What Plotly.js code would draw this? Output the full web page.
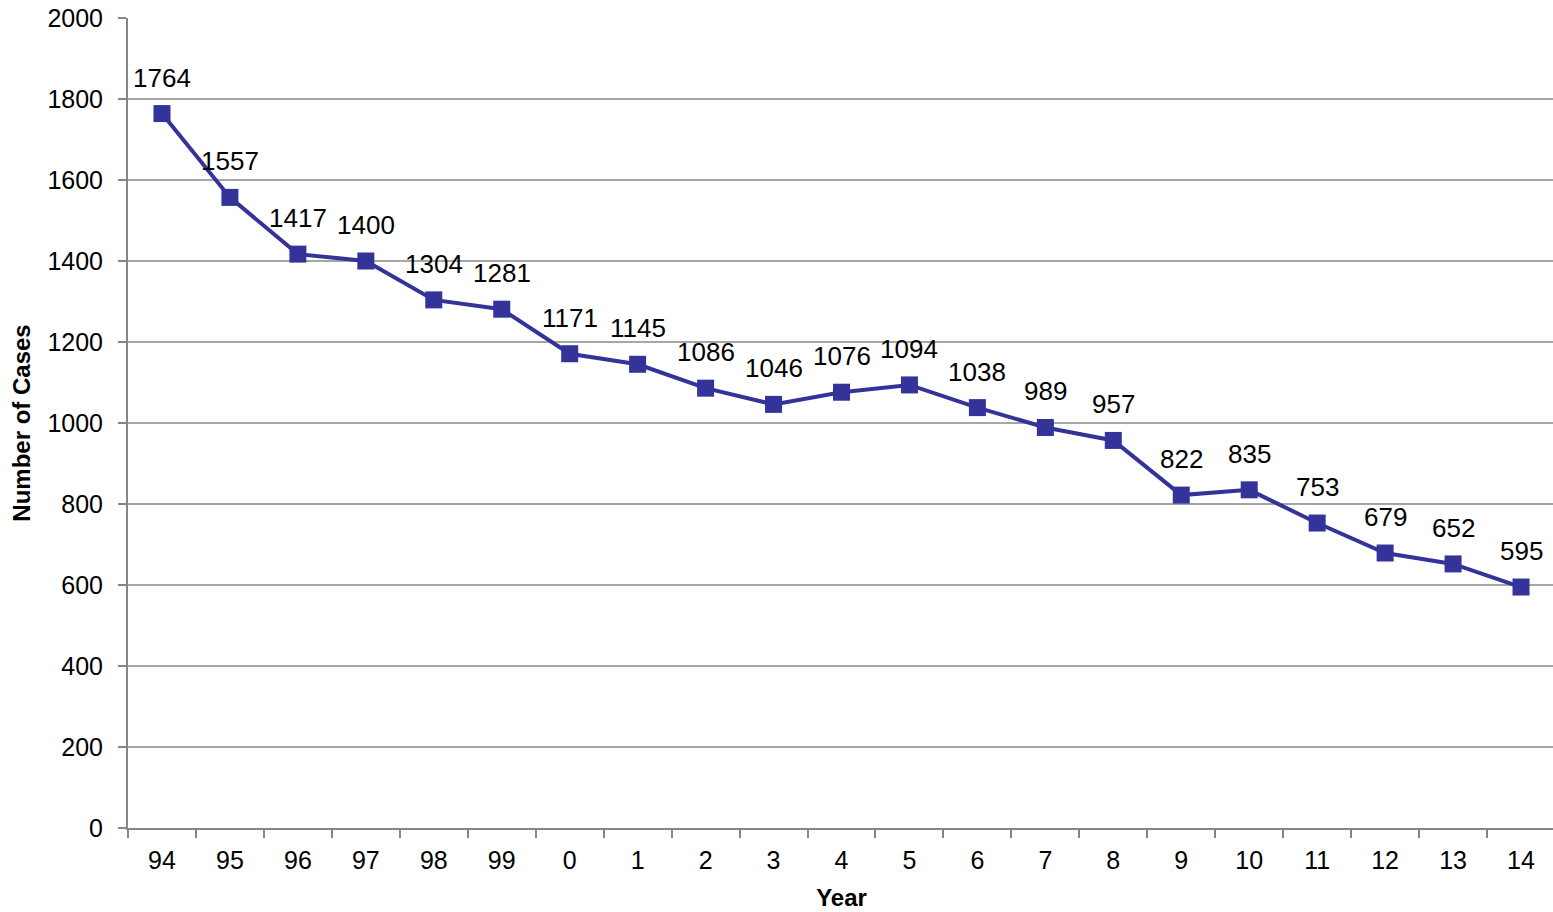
<!DOCTYPE html>
<html><head><meta charset="utf-8">
<script src="https://cdn.plot.ly/plotly-3.0.1.min.js"></script>
<style>html,body{margin:0;padding:0;overflow:hidden;background:#fff}</style>
</head><body>
<div id="chart" style="width:1555px;height:912px"></div>
<script>
const years = ["94","95","96","97","98","99","0","1","2","3","4","5","6","7","8","9","10","11","12","13","14"];
const cases = [1764,1557,1417,1400,1304,1281,1171,1145,1086,1046,1076,1094,1038,989,957,822,835,753,679,652,595];
const yTicks = [0,200,400,600,800,1000,1200,1400,1600,1800,2000];

const FONT = 'Liberation Sans, Arial, sans-serif';
const trace = {
  x: years, y: cases, type: 'scatter', mode: 'lines+markers',
  line: {color: '#333399', width: 4},
  marker: {symbol: 'square', size: 17, color: '#333399'},
  cliponaxis: false, hoverinfo: 'skip'
};
// category axis: annotation x given as category index
const annotations = years.map((yr, i) => ({
  x: i, y: cases[i], xref: 'x', yref: 'y', text: String(cases[i]),
  showarrow: false, yshift: 36, font: {family: FONT, size: 26, color: '#000'}
}));
const layout = {
  width: 1555, height: 912,
  margin: {l: 128, r: 0, t: 18, b: 84},
  paper_bgcolor: '#fff', plot_bgcolor: '#fff',
  font: {family: FONT, color: '#000', size: 24},
  showlegend: false,
  annotations: annotations,
  xaxis: {
    type: 'category', tickson: 'boundaries', ticks: 'outside', ticklen: 8, tickcolor: '#868686', tickwidth: 2,
    showgrid: false, showline: true, linecolor: '#868686', linewidth: 2,
    tickfont: {size: 25}, range: [-0.5, 20.5], ticklabelstandoff: 9,
    title: {text: '<b>Year</b>', font: {size: 24}, standoff: 16}
  },
  yaxis: {
    range: [0, 2000], tickvals: yTicks, ticks: 'outside', ticklen: 8, tickcolor: '#868686', tickwidth: 2,
    showgrid: true, gridcolor: '#a6a6a6', gridwidth: 2, zeroline: false,
    showline: true, linecolor: '#868686', linewidth: 2,
    tickfont: {size: 25}, ticklabelstandoff: 10,
    title: {text: '<b>Number of Cases</b>', font: {size: 24}, standoff: 10}
  }
};
Plotly.newPlot('chart', [trace], layout, {displayModeBar: false, staticPlot: true});
</script>
</body></html>
